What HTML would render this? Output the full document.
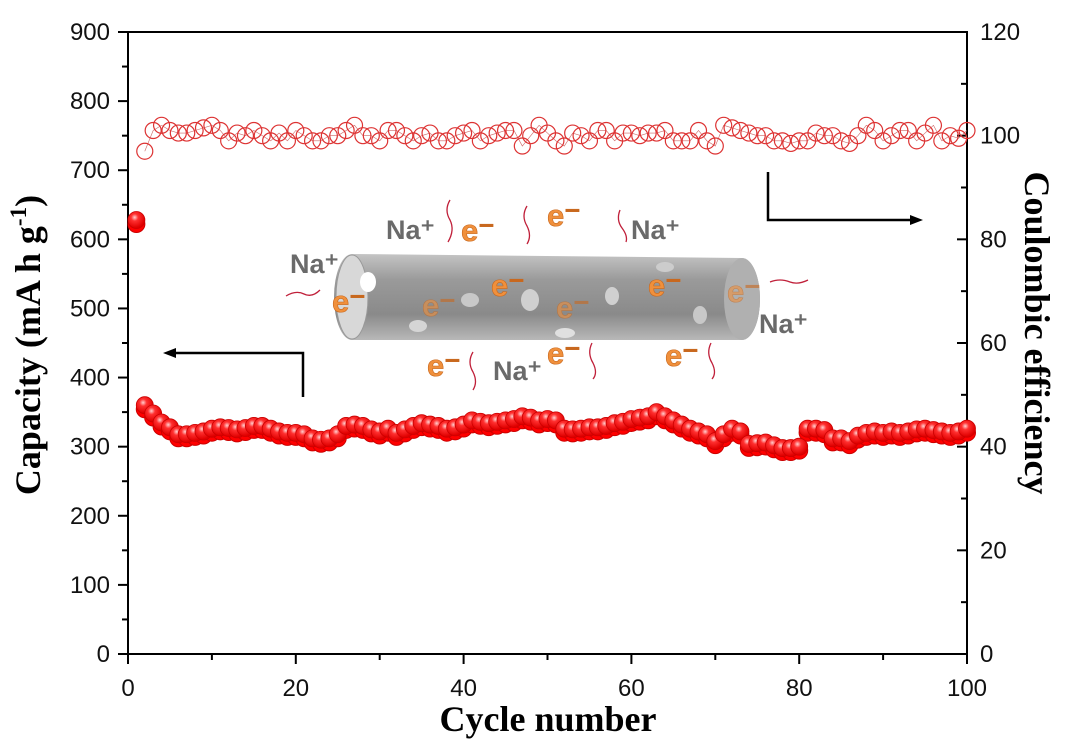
<!DOCTYPE html>
<html><head><meta charset="utf-8"><style>
html,body{margin:0;padding:0;background:#fff}
svg{display:block}
.tk{font-family:"Liberation Sans",sans-serif;font-size:24px;fill:#111}
.ax{font-family:"Liberation Serif",serif;font-weight:bold;font-size:36px;fill:#000}
.na{font-family:"Liberation Sans",sans-serif;font-size:27px;fill:#6a6a6a;font-weight:bold}
.el{font-family:"Liberation Sans",sans-serif;font-size:31px;font-weight:bold;fill:#f0903c;stroke:#c8681e;stroke-width:.6}
</style></head><body>
<svg id="chart" width="1080" height="746" viewBox="0 0 1080 746">
<defs>
<radialGradient id="ball" cx="0.4" cy="0.35" r="0.6"><stop offset="0" stop-color="#ffd0d0"/><stop offset="0.35" stop-color="#ff3030"/><stop offset="1" stop-color="#e00000"/></radialGradient>
<linearGradient id="tube" x1="0" y1="0" x2="0" y2="1"><stop offset="0" stop-color="#c4c4c4"/><stop offset="0.3" stop-color="#9a9a9a"/><stop offset="0.7" stop-color="#8a8a8a"/><stop offset="1" stop-color="#b8b8b8"/></linearGradient>
</defs>
<g id="axes"></g>
<g id="illus">
<path d="M352 254 L742 258 A18 41 0 0 1 742 340 L352 340 A18 43 0 0 1 352 254 Z" fill="url(#tube)"/>
<ellipse cx="742" cy="299" rx="18" ry="41" fill="#b0b0b0"/>
<ellipse cx="352" cy="297" rx="16" ry="42" fill="#d8d8d8" stroke="#999"/>
<ellipse cx="368" cy="282" rx="8" ry="10" fill="#fff"/>
<ellipse cx="470" cy="300" rx="9" ry="7" fill="#c8c8c8"/>
<ellipse cx="530" cy="300" rx="9" ry="11" fill="#d0d0d0"/>
<ellipse cx="612" cy="296" rx="7" ry="9" fill="#d0d0d0"/>
<ellipse cx="665" cy="267" rx="9" ry="5" fill="#ccc"/>
<ellipse cx="418" cy="326" rx="9" ry="6" fill="#d5d5d5"/>
<ellipse cx="565" cy="333" rx="10" ry="5" fill="#e0e0e0"/>
<ellipse cx="700" cy="315" rx="7" ry="9" fill="#c8c8c8"/>
<text class="na" x="386" y="239">Na⁺</text>
<text class="el" x="461" y="241">e⁻</text>
<text class="el" x="547" y="226">e⁻</text>
<text class="na" x="631" y="239">Na⁺</text>
<text class="na" x="290" y="273">Na⁺</text>
<text class="el" x="332" y="312">e⁻</text>
<text class="el" x="422" y="316" opacity="0.6">e⁻</text>
<text class="el" x="491" y="296">e⁻</text>
<text class="el" x="556" y="318" opacity="0.6">e⁻</text>
<text class="el" x="648" y="296">e⁻</text>
<text class="el" x="727" y="302" opacity="0.6">e⁻</text>
<text class="na" x="759" y="333">Na⁺</text>
<text class="el" x="427" y="376">e⁻</text>
<text class="na" x="493" y="380">Na⁺</text>
<text class="el" x="547" y="364">e⁻</text>
<text class="el" x="665" y="366">e⁻</text>
<g fill="none" stroke="#c0203a" stroke-width="1.3">
<path d="M450 200 q-6 10 0 20 q5 10 -2 22"/><path d="M527 206 q-6 10 0 20 q5 10 0 18"/>
<path d="M620 210 q-4 10 2 18 q6 8 4 14"/><path d="M286 296 q10 -6 18 -2 q8 4 16 -4"/>
<path d="M770 282 q10 -4 20 0 q8 3 18 -2"/><path d="M473 352 q-6 10 0 20 q5 10 0 18"/>
<path d="M592 343 q-5 10 1 20 q5 10 0 16"/><path d="M711 343 q-5 10 1 20 q5 10 0 16"/>
</g>
</g>
<g fill="none" stroke="#000" stroke-width="2.5">
<path d="M303 397 V353 H172"/><path d="M768 172 V220 H912"/>
</g>
<polygon points="163,353 176,348 176,358" fill="#000"/>
<polygon points="923,220 910,215 910,225" fill="#000"/>
<g id="series"></g>
</svg>
<script>
const xTicks=[0,20,40,60,80,100];
const capTicks=[0,100,200,300,400,500,600,700,800,900];
const ceTicks=[0,20,40,60,80,100,120];
const capacity=[628,360,348,335,328,318,318,320,322,326,328,327,325,327,330,330,326,322,320,320,318,312,310,312,318,330,332,330,325,322,326,320,325,330,334,332,330,326,328,332,338,336,334,336,338,340,344,342,338,340,338,326,325,326,328,328,330,334,336,340,342,344,350,344,338,332,326,322,318,308,318,326,322,304,305,306,302,298,298,300,326,326,324,312,312,308,316,320,322,320,322,320,322,325,326,324,322,320,322,326];
const ce=[97,101,102,101,100.5,100.5,101,101.5,102,101,99,100.5,100,101,100,99,100.5,99,101,100,99,99,100,100,101,102,100,100,99,101,101,100,99,100,100.5,99,99,100,100.5,101,99,100,100.5,101,101,98,100,102,100.5,99,98,100.5,100,99,101,101,99,100.5,100.5,100,100.5,100.5,101,99,99,99,101,99,98,102,101.5,101,100.5,100,100,99,99,98.5,99,99,100.5,100,100,99,98.5,100,102,101,99,100,101,101,99,100.5,102,99,100,99.5,101];
const L=128,R=967,T=32,B=654;
const xs=v=>L+(R-L)*v/100, yc=v=>B-(B-T)*v/900, ye=v=>B-(B-T)*v/120;
const NS='http://www.w3.org/2000/svg';
function mk(p,tag,a){const e=document.createElementNS(NS,tag);for(const k in a)e.setAttribute(k,a[k]);p.appendChild(e);return e;}
const ax=document.getElementById('axes');
const frame=mk(ax,'rect',{x:L,y:T,width:R-L,height:B-T,fill:'none',stroke:'#000','stroke-width':2});


capTicks.forEach((v,i)=>{const y=yc(v);mk(ax,'line',{x1:L-10,x2:L,y1:y,y2:y,stroke:'#000','stroke-width':2});
 if(i<capTicks.length-1){const ym=yc(v+50);mk(ax,'line',{x1:L-6,x2:L,y1:ym,y2:ym,stroke:'#000','stroke-width':2});}
 const t=mk(ax,'text',{x:L-18,y:y+8,'text-anchor':'end',class:'tk'});t.textContent=v;
 
 });
ceTicks.forEach((v,i)=>{const y=ye(v);mk(ax,'line',{x1:R-10,x2:R,y1:y,y2:y,stroke:'#000','stroke-width':2});
 if(i<ceTicks.length-1){const ym=ye(v+10);mk(ax,'line',{x1:R-6,x2:R,y1:ym,y2:ym,stroke:'#000','stroke-width':2});}
 const t=mk(ax,'text',{x:R+13,y:y+8,class:'tk'});t.textContent=v;
 
 });
xTicks.forEach((v,i)=>{const x=xs(v);mk(ax,'line',{x1:x,x2:x,y1:B,y2:B+10,stroke:'#000','stroke-width':2});
 if(i<xTicks.length-1){const xm=xs(v+10);mk(ax,'line',{x1:xm,x2:xm,y1:B,y2:B+6,stroke:'#000','stroke-width':2});}
 const t=mk(ax,'text',{x:x,y:B+42,'text-anchor':'middle',class:'tk'});t.textContent=v;
 
 });
const xt=mk(ax,'text',{x:548,y:731,'text-anchor':'middle',class:'ax'});xt.textContent='Cycle number';


const yl=mk(ax,'text',{transform:'translate(40,345) rotate(-90)','text-anchor':'middle',class:'ax'});
yl.innerHTML='Capacity (mA h g<tspan dy="-14" font-size="23">-1</tspan><tspan dy="14">)</tspan>';


const yr=mk(ax,'text',{transform:'translate(1025,333) rotate(90)','text-anchor':'middle',class:'ax'});yr.textContent='Coulombic efficiency';


const s=document.getElementById('series');
let pts=ce.map((v,i)=>xs(i+2)+','+ye(v)).join(' ');
const cl=mk(s,'polyline',{points:pts,fill:'none',stroke:'#c66','stroke-width':0.6});


ce.forEach((v,i)=>{const c=mk(s,'circle',{cx:xs(i+2),cy:ye(v),r:8,fill:'none',stroke:'#d33','stroke-width':1.2});
 
 });
capacity.forEach((v,i)=>{const c=mk(s,'circle',{cx:xs(i+1),cy:yc(v)+4,r:8.5,fill:'#f00',stroke:'#c00','stroke-width':1});
 
 });
capacity.forEach((v,i)=>{const c=mk(s,'circle',{cx:xs(i+1),cy:yc(v),r:8.5,fill:'url(#ball)',stroke:'#c00','stroke-width':0.8});
 
 });
</script>
</body></html>
